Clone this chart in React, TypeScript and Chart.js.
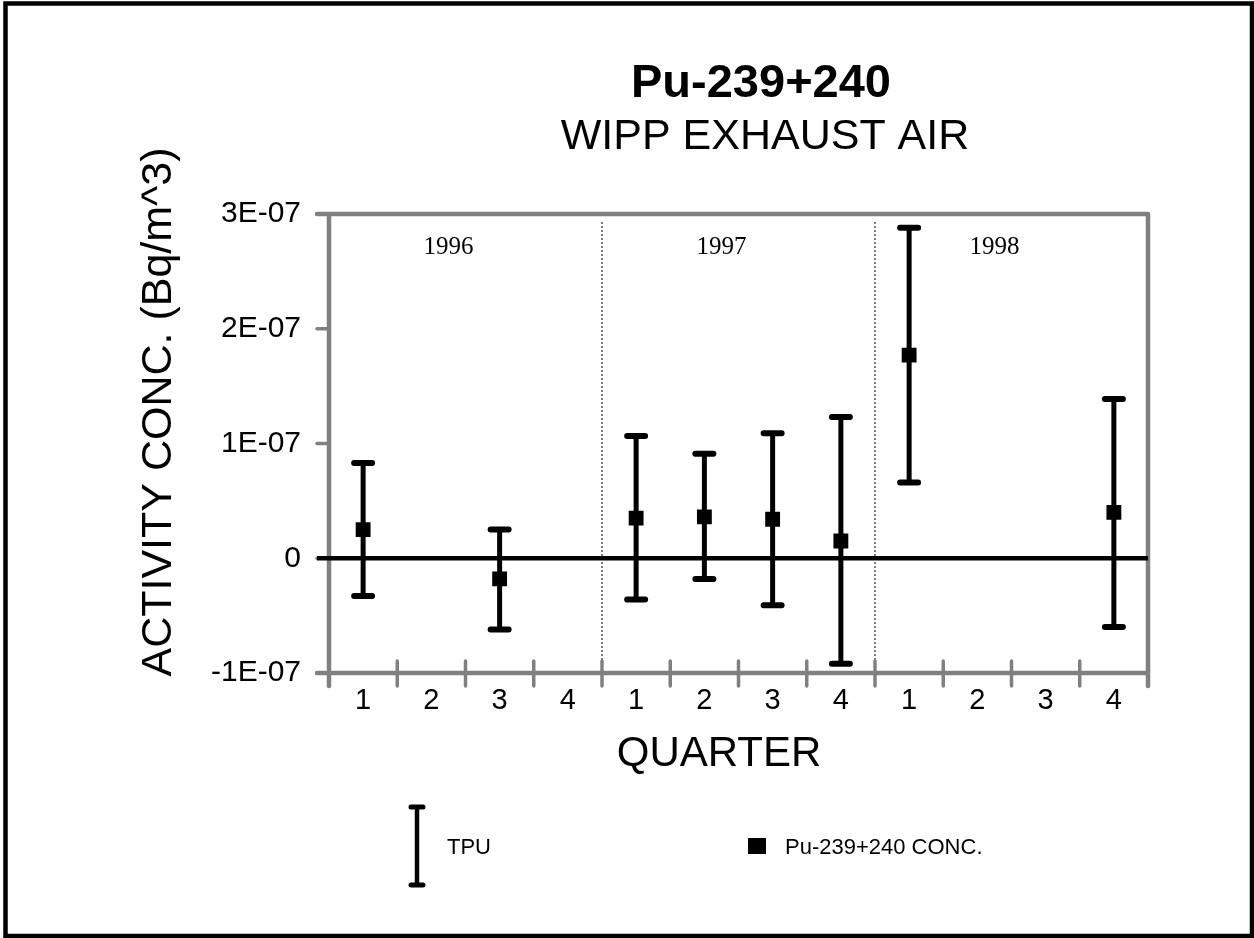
import React, { useEffect, useRef } from "react";
import { Chart, registerables } from "chart.js";

Chart.register(...registerables);

const quarterLabels = ["1", "2", "3", "4", "1", "2", "3", "4", "1", "2", "3", "4"];
const years = ["1996", "1997", "1998"];
const yearStartIndex = [0, 4, 8];
const concValues: (number | null)[] = [2.5e-8, null, -1.8e-8, null, 3.5e-8, 3.6e-8, 3.4e-8, 1.5e-8, 1.77e-7, null, null, 4.0e-8];
const tpuHigh: (number | null)[] = [8.3e-8, null, 2.5e-8, null, 1.065e-7, 9.1e-8, 1.09e-7, 1.23e-7, 2.88e-7, null, null, 1.388e-7];
const tpuLow: (number | null)[] = [-3.3e-8, null, -6.2e-8, null, -3.6e-8, -1.8e-8, -4.1e-8, -9.2e-8, 6.6e-8, null, null, -6.0e-8];
const yTickValues = [-1e-7, 0, 1e-7, 2e-7, 3e-7];
const yTickLabels = ["-1E-07", "0", "1E-07", "2E-07", "3E-07"];

const titleText = "Pu-239+240";
const subtitleText = "WIPP EXHAUST AIR";
const yTitle = "ACTIVITY CONC. (Bq/m^3)";
const xTitle = "QUARTER";
const legendTpu = "TPU";
const legendConc = "Pu-239+240 CONC.";

const SANS = "'Liberation Sans', Arial, sans-serif";
const SERIF = "'Liberation Serif', 'Times New Roman', serif";
const GRAY = "#808080";

const drawPlugin = {
  id: "customDraw",
  beforeDatasetsDraw(chart: any) {
    const { ctx, chartArea: ca } = chart;
    const xs = chart.scales.x;
    const ys = chart.scales.y;
    ctx.save();
    // dotted year separators
    ctx.strokeStyle = "#555";
    ctx.lineWidth = 1.5;
    ctx.setLineDash([2, 2]);
    for (let i = 1; i < yearStartIndex.length; i++) {
      const x = xs.getPixelForValue(yearStartIndex[i] - 0.5);
      ctx.beginPath();
      ctx.moveTo(x, ca.top + 8);
      ctx.lineTo(x, ca.bottom + 13);
      ctx.stroke();
    }
    ctx.setLineDash([]);
    // frame
    ctx.strokeStyle = GRAY;
    ctx.lineWidth = 4.5;
    ctx.lineCap = "round";
    ctx.beginPath();
    ctx.moveTo(ca.left - 12, ca.top);
    ctx.lineTo(ca.right, ca.top);
    ctx.moveTo(ca.left, ca.top);
    ctx.lineTo(ca.left, ca.bottom + 13);
    ctx.moveTo(ca.right, ca.top);
    ctx.lineTo(ca.right, ca.bottom + 13);
    ctx.moveTo(ca.left - 12, ca.bottom);
    ctx.lineTo(ca.right, ca.bottom);
    ctx.stroke();
    // y ticks
    ctx.lineWidth = 3.5;
    yTickValues.forEach((v) => {
      const y = ys.getPixelForValue(v);
      ctx.beginPath();
      ctx.moveTo(ca.left - 12, y);
      ctx.lineTo(ca.left, y);
      ctx.stroke();
    });
    // x ticks at category boundaries
    for (let i = 1; i < quarterLabels.length; i++) {
      const x = xs.getPixelForValue(i - 0.5);
      ctx.beginPath();
      ctx.moveTo(x, ca.bottom - 12);
      ctx.lineTo(x, ca.bottom + 13);
      ctx.stroke();
    }
    // zero line
    ctx.strokeStyle = "#000";
    ctx.lineWidth = 4.5;
    ctx.lineCap = "butt";
    const y0 = ys.getPixelForValue(0);
    ctx.beginPath();
    ctx.moveTo(ca.left - 12, y0);
    ctx.lineTo(ca.right, y0);
    ctx.stroke();
    // error bars
    for (let i = 0; i < quarterLabels.length; i++) {
      const hi = tpuHigh[i];
      const lo = tpuLow[i];
      if (hi == null || lo == null) continue;
      const x = xs.getPixelForValue(i);
      const yh = ys.getPixelForValue(hi);
      const yl = ys.getPixelForValue(lo);
      ctx.lineCap = "butt";
      ctx.lineWidth = 5;
      ctx.beginPath();
      ctx.moveTo(x, yh);
      ctx.lineTo(x, yl);
      ctx.stroke();
      ctx.lineCap = "round";
      ctx.lineWidth = 6;
      ctx.beginPath();
      ctx.moveTo(x - 9, yh);
      ctx.lineTo(x + 9, yh);
      ctx.moveTo(x - 9, yl);
      ctx.lineTo(x + 9, yl);
      ctx.stroke();
    }
    ctx.restore();
  },
  afterDraw(chart: any) {
    const { ctx, chartArea: ca } = chart;
    const xs = chart.scales.x;
    ctx.save();
    ctx.fillStyle = "#000";
    ctx.textAlign = "center";
    ctx.textBaseline = "alphabetic";
    // titles
    ctx.font = `bold 47px ${SANS}`;
    ctx.fillText(titleText, 761, 97);
    ctx.font = `43px ${SANS}`;
    ctx.fillText(subtitleText, 765, 149);
    // year labels
    ctx.font = `25px ${SERIF}`;
    years.forEach((yr, k) => {
      const x = xs.getPixelForValue(yearStartIndex[k] + 1.25);
      ctx.fillText(yr, x, ca.top + 40);
    });
    // axis titles
    ctx.font = `42px ${SANS}`;
    ctx.fillText(xTitle, 719, 766);
    ctx.save();
    ctx.translate(171, 412);
    ctx.rotate(-Math.PI / 2);
    ctx.font = `43px ${SANS}`;
    ctx.fillText(yTitle, 0, 0);
    ctx.restore();
    // legend
    ctx.strokeStyle = "#000";
    ctx.lineWidth = 4.5;
    ctx.lineCap = "butt";
    ctx.beginPath();
    ctx.moveTo(417, 807);
    ctx.lineTo(417, 885);
    ctx.stroke();
    ctx.lineCap = "round";
    ctx.lineWidth = 5;
    ctx.beginPath();
    ctx.moveTo(411, 807);
    ctx.lineTo(423, 807);
    ctx.moveTo(411, 885);
    ctx.lineTo(423, 885);
    ctx.stroke();
    ctx.textAlign = "left";
    ctx.font = `22px ${SANS}`;
    ctx.fillText(legendTpu, 447, 854);
    ctx.fillRect(748, 838, 18, 16);
    ctx.fillText(legendConc, 785, 854);
    // outer border
    ctx.lineWidth = 4.5;
    ctx.lineCap = "butt";
    ctx.strokeRect(5.5, 3.5, 1246.5, 932.5);
    ctx.restore();
  },
};

export default function App() {
  const ref = useRef<HTMLCanvasElement | null>(null);
  useEffect(() => {
    if (!ref.current) return;
    const chart = new Chart(ref.current, {
      type: "line",
      data: {
        labels: quarterLabels.map((l, i) => `${l}#${i}`),
        datasets: [
          {
            label: legendConc,
            data: concValues,
            showLine: false,
            pointStyle: "rect",
            pointRadius: 10.5,
            pointBackgroundColor: "#000",
            pointBorderColor: "#000",
            pointBorderWidth: 0,
          },
        ],
      },
      options: {
        responsive: false,
        animation: false,
        events: [],
        layout: { padding: { left: 129, top: 214, right: 106, bottom: 185 } },
        plugins: { legend: { display: false }, title: { display: false }, tooltip: { enabled: false } },
        scales: {
          x: {
            type: "category",
            offset: true,
            grid: { display: false, drawTicks: false },
            border: { display: false },
            ticks: {
              padding: 11,
              color: "#000",
              font: { size: 29, family: SANS },
              maxRotation: 0,
              autoSkip: false,
              callback: (_v: any, i: number) => quarterLabels[i],
            },
            afterFit: (s: any) => {
              s.height = 80;
            },
          },
          y: {
            min: -1e-7,
            max: 3e-7,
            grid: { display: false, drawTicks: false },
            border: { display: false },
            afterBuildTicks: (s: any) => {
              s.ticks = yTickValues.map((v) => ({ value: v }));
            },
            ticks: {
              padding: 28,
              color: "#000",
              font: { size: 30, family: SANS },
              callback: (v: any) => {
                const idx = yTickValues.findIndex((t) => Math.abs(t - Number(v)) < 1e-12);
                return idx >= 0 ? yTickLabels[idx] : "";
              },
            },
            afterFit: (s: any) => {
              s.width = 200;
            },
          },
        },
      },
      plugins: [drawPlugin],
    });
    return () => chart.destroy();
  }, []);
  return (
    <div style={{ position: "absolute", left: 0, top: 0, width: 1254, height: 938, background: "#fff" }}>
      <canvas ref={ref} width={1254} height={938} style={{ width: 1254, height: 938, display: "block" }} />
    </div>
  );
}
